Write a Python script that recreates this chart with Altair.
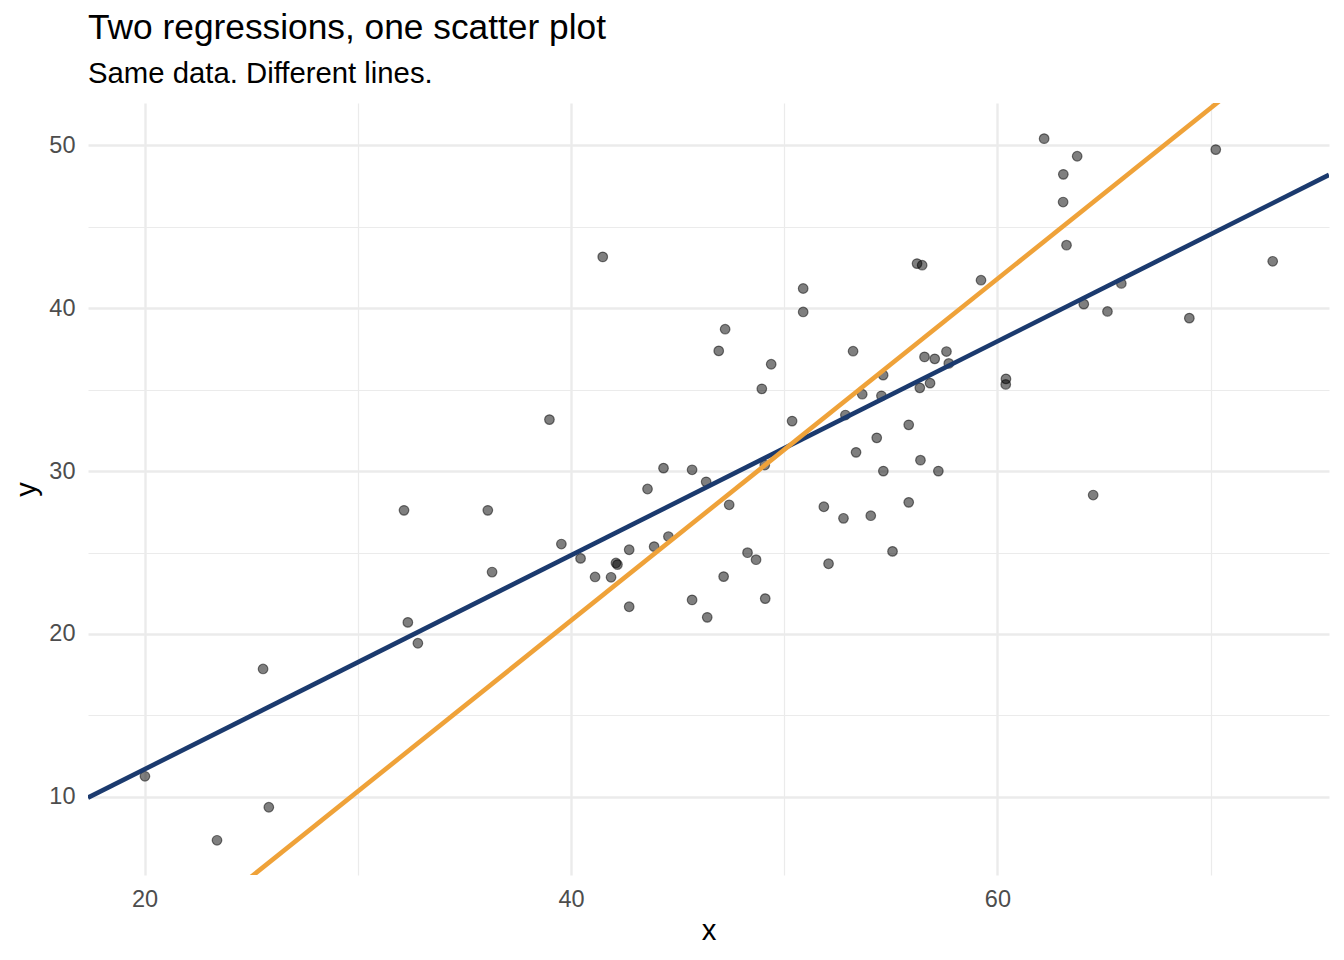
import altair as alt
import pandas as pd

# ---- data ----
x_vals = [20.02, 23.40, 25.56, 25.83, 32.17, 32.35, 32.82, 36.10, 36.30, 38.99,
          39.55, 40.45, 41.13, 41.49, 41.88, 42.11, 42.18, 42.73, 42.73, 43.59,
          43.90, 44.34, 44.57, 45.68, 45.68, 46.34, 46.39, 46.93, 47.23, 47.16,
          47.42, 48.28, 48.68, 48.95, 49.11, 49.09, 49.39, 50.37, 50.89, 50.89,
          51.86, 52.08, 52.87, 52.78, 53.23, 53.37, 53.66, 54.06, 54.34, 54.56,
          54.64, 54.65, 55.08, 55.84, 55.84, 56.23, 56.47, 56.36, 56.39, 56.58,
          56.84, 57.06, 57.23, 57.61, 57.72, 59.23, 60.40, 60.39, 62.19, 63.09,
          63.08, 63.24, 63.74, 64.05, 64.49, 65.16, 65.81, 69.00, 70.24, 72.91]
y_vals = [11.26, 7.33, 17.85, 9.36, 27.59, 20.71, 19.43, 27.59, 23.80, 33.16,
          25.52, 24.64, 23.50, 43.15, 23.48, 24.36, 24.26, 25.17, 21.67, 28.90,
          25.36, 30.18, 25.98, 30.08, 22.09, 29.34, 21.02, 37.38, 38.71, 23.52,
          27.93, 24.99, 24.56, 35.05, 22.17, 30.37, 36.56, 33.07, 41.21, 39.77,
          27.81, 24.31, 33.44, 27.10, 37.36, 31.15, 34.72, 27.26, 32.04, 34.62,
          35.89, 30.00, 25.07, 32.84, 28.08, 42.74, 42.64, 35.11, 30.67, 37.01,
          35.40, 36.89, 30.00, 37.34, 36.61, 41.72, 35.66, 35.32, 50.41, 48.22,
          46.52, 43.87, 49.33, 40.25, 28.53, 39.80, 41.52, 39.39, 49.74, 42.88]

line_names = ["y on x", "x on y"]
line_slopes = [0.657, 1.049]
line_intercepts = [-1.45, -21.14]
line_colors = ["#1B3A6E", "#EFA239"]

x_domain = [17.35, 75.55]
y_domain = [5.2, 52.6]
x_major = [20, 40, 60]
x_minor = [30, 50, 70]
y_major = [10, 20, 30, 40, 50]
y_minor = [15, 25, 35, 45]

title_text = "Two regressions, one scatter plot"
subtitle_text = "Same data. Different lines."

FONT = "Liberation Sans"

points = pd.DataFrame({"x": x_vals, "y": y_vals})
lines = pd.DataFrame([
    {"line": n, "x": xv, "y": b + m * xv, "k": i}
    for n, m, b in zip(line_names, line_slopes, line_intercepts)
    for i, xv in enumerate(x_domain)
])


def make_axis(title, major, minor, pad, tpad):
    vals = sorted(major + minor)
    test = " || ".join("datum.value == %s" % v for v in major)
    return alt.Axis(
        title=title,
        values=vals,
        labelExpr="(%s) ? datum.label : ''" % test,
        gridWidth={"condition": {"test": test, "value": 2.4}, "value": 1.2},
        gridColor="#EBEBEB",
        ticks=False,
        domain=False,
        labelFont=FONT,
        labelFontSize=23.5,
        labelColor="#4D4D4D",
        labelPadding=pad,
        labelFlush=False,
        labelOverlap=False,
        titleFont=FONT,
        titleFontSize=29.3,
        titleFontWeight="normal",
        titleColor="black",
        titlePadding=tpad,
    )


xs = alt.X("x:Q", scale=alt.Scale(domain=x_domain, nice=False, zero=False),
           axis=make_axis("x", x_major, x_minor, 12, 6))
ys = alt.Y("y:Q", scale=alt.Scale(domain=y_domain, nice=False, zero=False),
           axis=make_axis("y", y_major, y_minor, 13, 7))

pts = alt.Chart(points).mark_circle(
    size=92, fill="black", fillOpacity=0.5,
    stroke="black", strokeOpacity=0.5, strokeWidth=1.2,
).encode(x=xs, y=ys)

color = alt.Color("line:N", scale=alt.Scale(domain=line_names, range=line_colors), legend=None)

layers = [pts]
for n in line_names:
    layers.append(
        alt.Chart(lines).transform_filter(alt.datum.line == n)
        .mark_line(strokeWidth=4.6, clip=True)
        .encode(x=xs, y=ys, color=color, order="k:Q")
    )

chart = alt.layer(*layers).properties(
    width=1241,
    height=772,
    autosize=alt.AutoSizeParams(type="none"),
    padding={"left": 80, "top": 95, "right": 7, "bottom": 77},
    view=alt.ViewBackground(stroke="transparent", strokeWidth=0),
    title=alt.TitleParams(
        title_text,
        subtitle=subtitle_text,
        anchor="start",
        frame="group",
        font=FONT,
        fontSize=35.3,
        fontWeight="normal",
        color="black",
        subtitleFont=FONT,
        subtitleFontSize=29.3,
        subtitleColor="black",
        subtitlePadding=13,
        offset=14,
    ),
).configure_view(stroke="transparent", strokeWidth=0).configure(background="white")

chart.save("out.html", embed_options={"renderer": "svg", "actions": False})
